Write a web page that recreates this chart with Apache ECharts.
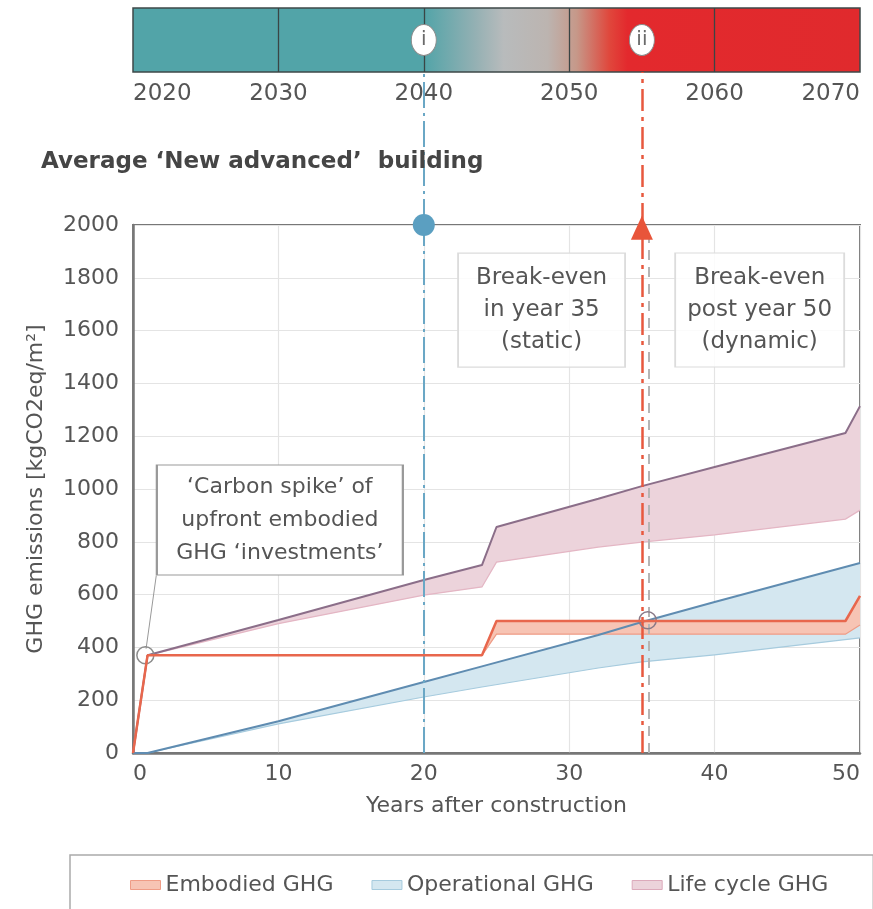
<!DOCTYPE html>
<html>
<head>
<meta charset="utf-8">
<script src="https://cdn.jsdelivr.net/npm/echarts@6/dist/echarts.min.js"></script>
<style>
  html, body { margin: 0; padding: 0; background: #fff; }
  #main { width: 873px; height: 909px; }
</style>
</head>
<body>
<div id="main"></div>
<script>
// timeline bar on top
var barRange = [2020, 2070];
var barDividers = [2030, 2040, 2050, 2060];
var barMarkers = [['i', 2040], ['ii', 2055]];

// embodied GHG band
var emYears = [0, 1, 24, 25, 49, 50];
var emUpper = [0, 370, 370, 500, 500, 595];
var emLower = [0, 370, 370, 450, 450, 485];

// operational GHG band
var opYears = [0, 1, 10, 20, 24, 32, 35, 40, 50];
var opUpper = [0, 0, 120, 269, 328, 447, 496, 572, 720];
var opLower = [0, 0, 110, 212, 250, 322, 345, 372, 436];

// life cycle GHG band
var lcYears = [0, 1, 10, 20, 24, 25, 32, 35, 40, 49, 50];
var lcUpper = [0, 370, 504, 655, 712, 856, 963, 1011, 1083, 1212, 1314];
var lcLower = [0, 370, 490, 598, 629, 723, 780, 799, 826, 886, 920];

// marker years
var milestoneYear = 20;
var breakEvenYear = 35;
var crossYear = 35.4;
var crossValue = 503;
var spikeYear = 0.85;
var spikeValue = 370;

var FONT = 'DejaVu Sans';
var GREY = '#555';

function pairs(xs, ys) {
  return xs.map(function (x, i) { return [x, ys[i]]; });
}
function plain(v) { return String(v); }

// band drawn as one polygon between lower and upper values
function band(name, xs, lo, hi, fill, edge) {
  return {
    name: name,
    type: 'custom',
    silent: true,
    itemStyle: { color: fill },
    data: [[xs[0], lo[0]]],
    renderItem: function (params, api) {
      var top = xs.map(function (x, i) { return api.coord([x, hi[i]]); });
      var bottom = xs.map(function (x, i) { return api.coord([x, lo[i]]); }).reverse();
      return {
        type: 'group',
        children: [{
          type: 'polygon',
          shape: { points: top.concat(bottom) },
          style: { fill: fill, stroke: null }
        }, {
          type: 'polyline',
          shape: { points: bottom },
          style: { fill: null, stroke: edge, lineWidth: 1.2 }
        }]
      };
    },
    z: 2
  };
}

var chart = echarts.init(document.getElementById('main'));

var barGradient = {
  type: 'linear', x: 0, y: 0, x2: 1, y2: 0,
  colorStops: [
    { offset: 0, color: '#52a4a8' },
    { offset: 0.40, color: '#52a4a8' },
    { offset: 0.47, color: '#93b0b3' },
    { offset: 0.51, color: '#b8bbbc' },
    { offset: 0.57, color: '#bcb4b0' },
    { offset: 0.61, color: '#c69889' },
    { offset: 0.655, color: '#e0473c' },
    { offset: 0.68, color: '#e3292d' },
    { offset: 1, color: '#e02a2d' }
  ]
};

var series = [
  band('Life cycle GHG', lcYears, lcLower, lcUpper, '#ecd3db', '#e4b6c4'),
  band('Operational GHG', opYears, opLower, opUpper, '#d4e7f0', '#a6cbde'),
  band('Embodied GHG', emYears, emLower, emUpper, '#f7c4b4', '#ef9c86'),
  {
    name: 'op line',
    type: 'line',
    symbol: 'none',
    data: pairs(opYears, opUpper),
    lineStyle: { color: '#5f8cb1', width: 2 },
    z: 4
  }, {
    name: 'lc line',
    type: 'line',
    symbol: 'none',
    data: pairs(lcYears, lcUpper),
    lineStyle: { color: '#8b6e89', width: 2 },
    z: 4
  }, {
    name: 'em line',
    type: 'line',
    symbol: 'none',
    data: pairs(emYears, emUpper),
    lineStyle: { color: '#e8674d', width: 2.5 },
    z: 5
  }, {
    // annotations in the main plot
    name: 'annot',
    type: 'line',
    data: [],
    silent: true,
    markLine: {
      silent: true,
      symbol: ['none', 'none'],
      label: { show: false },
      data: [
        [{ coord: [milestoneYear, 0], lineStyle: { color: '#6aa7c5', width: 2, type: [26, 5, 3, 5] } },
         { coord: [milestoneYear, 2000] }],
        [{ coord: [breakEvenYear + 0.5, 0], lineStyle: { color: '#b5b5b5', width: 2, type: [10, 7] } },
         { coord: [breakEvenYear + 0.5, 1960] }],
        [{ coord: [breakEvenYear, 0], lineStyle: { color: '#e8583e', width: 2.5, type: [22, 6, 4, 6] } },
         { coord: [breakEvenYear, 2000] }],
        [{ coord: [spikeYear + 0.05, 395], lineStyle: { color: '#999', width: 1, type: 'solid' } },
         { coord: [1.6, 672] }]
      ]
    },
    markPoint: {
      silent: true,
      data: [{
        coord: [milestoneYear, 2000], symbol: 'circle', symbolSize: 22,
        itemStyle: { color: '#5b9fc1' }, label: { show: false }
      }, {
        coord: [breakEvenYear, 1990], symbol: 'triangle', symbolSize: [22, 24],
        itemStyle: { color: '#e8553a' }, label: { show: false }
      }, {
        coord: [spikeYear, spikeValue], symbol: 'circle', symbolSize: 17,
        itemStyle: { color: 'rgba(255,255,255,0)', borderColor: '#8c8c8c', borderWidth: 1.5 },
        label: { show: false }
      }, {
        coord: [crossYear, crossValue], symbol: 'circle', symbolSize: 17,
        itemStyle: { color: 'rgba(255,255,255,0)', borderColor: '#8a7a88', borderWidth: 1.5 },
        label: { show: false }
      }, {
        coord: [10.1, 883], symbol: 'rect', symbolSize: [246, 110],
        itemStyle: { color: '#fff', borderColor: '#999', borderWidth: 1.5 },
        label: {
          show: true, position: 'inside', color: GREY, fontFamily: FONT, fontSize: 22, lineHeight: 33,
          formatter: '‘Carbon spike’ of\nupfront embodied\nGHG ‘investments’'
        }
      }, {
        coord: [28.1, 1678], symbol: 'rect', symbolSize: [167, 114],
        itemStyle: { color: 'rgba(255,255,255,0.85)', borderColor: '#dcdcdc', borderWidth: 1.5 },
        label: {
          show: true, position: 'inside', color: GREY, fontFamily: FONT, fontSize: 23, lineHeight: 32,
          formatter: 'Break-even\nin year 35\n(static)'
        }
      }, {
        coord: [43.1, 1678], symbol: 'rect', symbolSize: [169, 114],
        itemStyle: { color: 'rgba(255,255,255,0.85)', borderColor: '#dcdcdc', borderWidth: 1.5 },
        label: {
          show: true, position: 'inside', color: GREY, fontFamily: FONT, fontSize: 23, lineHeight: 32,
          formatter: 'Break-even\npost year 50\n(dynamic)'
        }
      }]
    },
    z: 6
  }, {
    // lines running from the timeline bar down to the plot
    name: 'connector',
    type: 'line',
    xAxisIndex: 1,
    yAxisIndex: 1,
    data: [],
    silent: true,
    markLine: {
      silent: true,
      symbol: ['none', 'none'],
      label: { show: false },
      data: [
        { xAxis: milestoneYear, lineStyle: { color: '#6aa7c5', width: 2, type: [26, 5, 3, 5] } },
        { xAxis: breakEvenYear, lineStyle: { color: '#e8583e', width: 2.5, type: [22, 6, 4, 6] } }
      ]
    }
  }, {
    // timeline bar
    name: 'timeline',
    type: 'line',
    xAxisIndex: 2,
    yAxisIndex: 2,
    data: [],
    silent: true,
    markArea: {
      silent: true,
      itemStyle: { color: barGradient, borderColor: '#3e4848', borderWidth: 1.5, opacity: 1 },
      data: [[{ coord: [barRange[0], 0] }, { coord: [barRange[1], 1] }]]
    },
    markLine: {
      silent: true,
      symbol: ['none', 'none'],
      label: { show: false },
      lineStyle: { color: '#3a4545', width: 1.3, type: 'solid' },
      data: barDividers.map(function (y) { return { xAxis: y }; })
    }
  }, {
    name: 'timeline markers',
    type: 'scatter',
    xAxisIndex: 2,
    yAxisIndex: 2,
    silent: true,
    symbol: 'circle',
    symbolSize: [25, 31],
    itemStyle: { color: '#fff', borderColor: '#8a8a8a', borderWidth: 1, opacity: 1 },
    label: {
      show: true, position: 'inside', color: '#6a6a6a', fontFamily: FONT, fontSize: 20,
      formatter: function (p) { return p.data[2]; }
    },
    data: barMarkers.map(function (m) { return [m[1], 0.5, m[0]]; }),
    z: 8
  }
];

var option = {
  animation: false,
  textStyle: { fontFamily: FONT },
  title: {
    text: 'Average ‘New advanced’  building',
    left: 36,
    top: 146,
    textStyle: { fontFamily: FONT, fontSize: 23, fontWeight: 'bold', color: '#454545' }
  },
  legend: {
    left: 70,
    top: 855,
    width: 780,
    padding: [19, 45, 30, 60],
    borderColor: '#aaa',
    borderWidth: 1.5,
    icon: 'rect',
    itemWidth: 30,
    itemHeight: 9,
    itemGap: 38,
    textStyle: { fontFamily: FONT, fontSize: 22, color: GREY },
    data: [
      { name: 'Embodied GHG', itemStyle: { color: '#f7c4b4', borderColor: '#ef9c86', borderWidth: 1 } },
      { name: 'Operational GHG', itemStyle: { color: '#d4e7f0', borderColor: '#a6cbde', borderWidth: 1 } },
      { name: 'Life cycle GHG', itemStyle: { color: '#ecd3db', borderColor: '#dcaabb', borderWidth: 1 } }
    ]
  },
  grid: [
    { left: 133, right: 13, top: 225, bottom: 156, show: true, borderColor: '#777', borderWidth: 2, outerBoundsMode: 'none' },
    { left: 133, right: 13, top: 72, height: 153, outerBoundsMode: 'none' },
    { left: 133, right: 13, top: 8, height: 64, outerBoundsMode: 'none' }
  ],
  xAxis: [{
    gridIndex: 0,
    type: 'value',
    min: 0,
    max: 50,
    interval: 10,
    name: 'Years after construction',
    nameLocation: 'middle',
    nameGap: 42,
    nameTextStyle: { fontFamily: FONT, fontSize: 22, color: GREY },
    axisLine: { lineStyle: { color: '#777', width: 2.5 } },
    axisTick: { show: false },
    axisLabel: { fontFamily: FONT, fontSize: 22, color: GREY, margin: 10, formatter: plain, alignMinLabel: 'left', alignMaxLabel: 'right' },
    splitLine: { lineStyle: { color: '#e4e4e4', width: 1.2 } }
  }, {
    gridIndex: 1, type: 'value', min: 0, max: 50, show: false
  }, {
    gridIndex: 2,
    type: 'value',
    min: barRange[0],
    max: barRange[1],
    interval: 10,
    axisLine: { show: false },
    axisTick: { show: false },
    splitLine: { show: false },
    axisLabel: { fontFamily: FONT, fontSize: 23, color: GREY, margin: 11, formatter: plain, alignMinLabel: 'left', alignMaxLabel: 'right' }
  }],
  yAxis: [{
    gridIndex: 0,
    type: 'value',
    min: 0,
    max: 2000,
    interval: 200,
    name: 'GHG emissions [kgCO2eq/m²]',
    nameLocation: 'middle',
    nameGap: 86,
    nameTextStyle: { fontFamily: FONT, fontSize: 22, color: GREY },
    axisLine: { show: true, lineStyle: { color: '#777', width: 2.5 } },
    axisTick: { show: false },
    axisLabel: { fontFamily: FONT, fontSize: 22, color: GREY, margin: 14, formatter: plain },
    splitLine: { lineStyle: { color: '#e4e4e4', width: 1.2 } }
  }, {
    gridIndex: 1, type: 'value', min: 0, max: 1, show: false
  }, {
    gridIndex: 2, type: 'value', min: 0, max: 1, show: false
  }],
  series: series
};

chart.setOption(option);
</script>
</body>
</html>
